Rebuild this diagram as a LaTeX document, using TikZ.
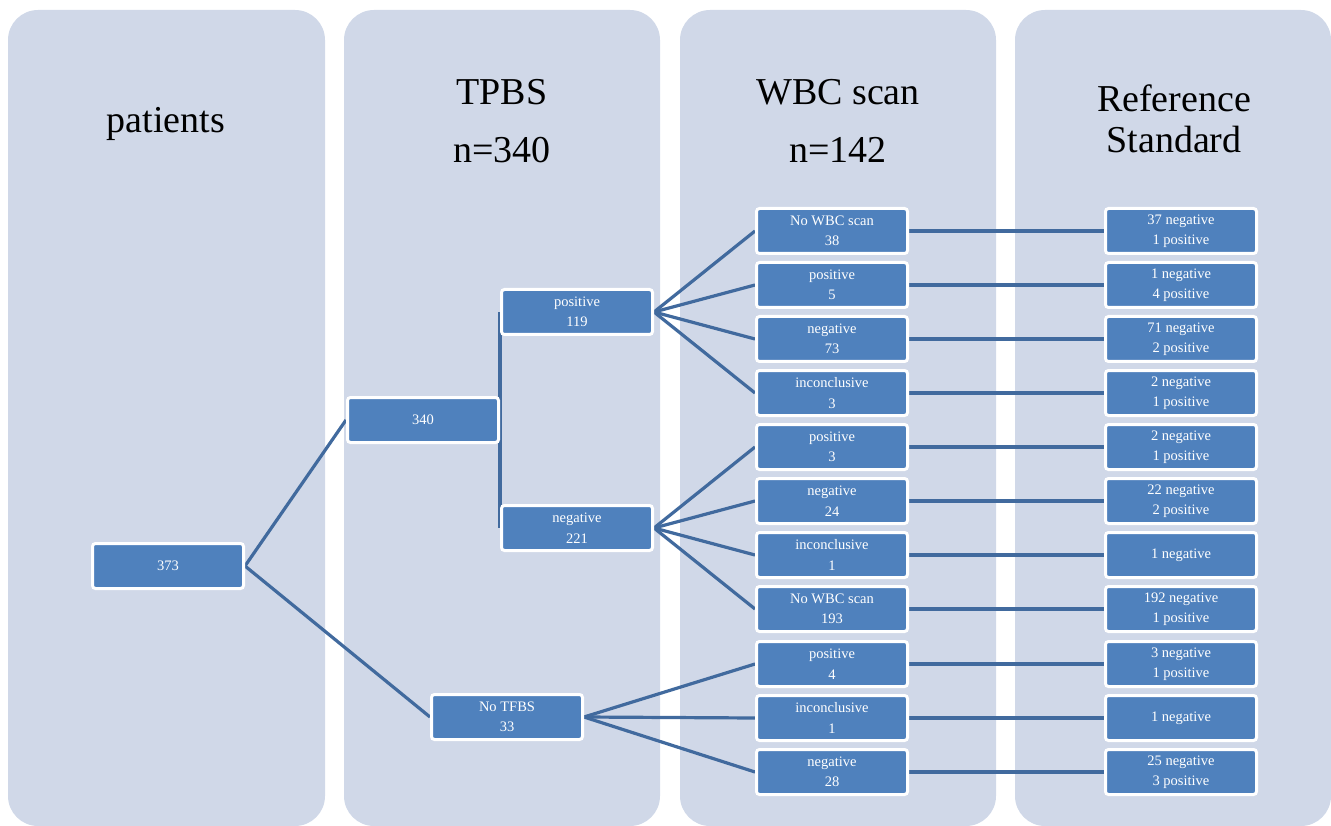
\documentclass[tikz,border=0pt]{standalone}
\usepackage{fontspec}
\setmainfont{Liberation Serif}
\pgfdeclarelayer{bg}
\pgfdeclarelayer{cols}
\pgfsetlayers{cols,bg,main}
\definecolor{colbg}{HTML}{D0D8E8}
\definecolor{boxblue}{HTML}{4F81BD}
\definecolor{lineblue}{HTML}{416A9E}
\begin{document}
\begin{tikzpicture}[x=1pt,y=-1pt,
  col/.style={fill=colbg, rounded corners=30pt, draw=none},
  box/.style={rectangle, fill=boxblue, draw=white, line width=3pt, rounded corners=3pt,
    minimum width=151pt, minimum height=45pt, inner sep=0pt, text=white,
    font=\fontsize{14.5}{20.5}\selectfont, align=center},
  conn/.style={draw=lineblue, line width=3.2pt},
  title/.style={font=\fontsize{38}{41}\selectfont, anchor=base, text=black}]
\useasboundingbox (0,0) rectangle (1331,826);
\begin{pgfonlayer}{cols}
\fill[col] (8,10) rectangle (325,826);
\fill[col] (344,10) rectangle (660,826);
\fill[col] (680,10) rectangle (996,826);
\fill[col] (1015,10) rectangle (1331,826);
\end{pgfonlayer}
% titles
\node[title] (t1) at (166,133) {patients};
\node[title] (t2a) at (502,105) {TPBS};
\node[title] (t2b) at (502,163) {n=340};
\node[title] (t3a) at (838,105) {WBC scan};
\node[title] (t3b) at (838,163) {n=142};
\node[title] (t4a) at (1174,112) {Reference};
\node[title] (t4b) at (1174,153) {Standard};
% boxes
\node[box] (n373) at (168,566) {373};
\node[box] (n340) at (423,420) {340};
\node[box] (pos) at (577,312) {positive\\119};
\node[box] (neg) at (577,528) {negative\\221};
\node[box] (notf) at (507,717) {No TFBS\\33};
\node[box] (w1) at (832,231) {No WBC scan\\38};
\node[box] (w2) at (832,285) {positive\\5};
\node[box] (w3) at (832,339) {negative\\73};
\node[box] (w4) at (832,393) {inconclusive\\3};
\node[box] (w5) at (832,447) {positive\\3};
\node[box] (w6) at (832,501) {negative\\24};
\node[box] (w7) at (832,555) {inconclusive\\1};
\node[box] (w8) at (832,609) {No WBC scan\\193};
\node[box] (w9) at (832,664) {positive\\4};
\node[box] (w10) at (832,718) {inconclusive\\1};
\node[box] (w11) at (832,772) {negative\\28};
\node[box] (r1) at (1181,231) {37 negative\\1 positive};
\node[box] (r2) at (1181,285) {1 negative\\4 positive};
\node[box] (r3) at (1181,339) {71 negative\\2 positive};
\node[box] (r4) at (1181,393) {2 negative\\1 positive};
\node[box] (r5) at (1181,447) {2 negative\\1 positive};
\node[box] (r6) at (1181,501) {22 negative\\2 positive};
\node[box] (r7) at (1181,555) {1 negative};
\node[box] (r8) at (1181,609) {192 negative\\1 positive};
\node[box] (r9) at (1181,664) {3 negative\\1 positive};
\node[box] (r10) at (1181,718) {1 negative};
\node[box] (r11) at (1181,772) {25 negative\\3 positive};
% connectors
\begin{pgfonlayer}{bg}
\draw[conn] (n373.east) -- (n340.west);
\draw[conn] (n373.east) -- (notf.west);
\draw[conn] (n340.east) -- (pos.west);
\draw[conn] (n340.east) -- (neg.west);
\foreach \w in {w1,w2,w3,w4} \draw[conn] (pos.east) -- (\w.west);
\foreach \w in {w5,w6,w7,w8} \draw[conn] (neg.east) -- (\w.west);
\foreach \w in {w9,w10,w11} \draw[conn] (notf.east) -- (\w.west);
\foreach \i in {1,...,11} \draw[conn] (w\i.east) -- (r\i.west);
\end{pgfonlayer}
\end{tikzpicture}
\end{document}
